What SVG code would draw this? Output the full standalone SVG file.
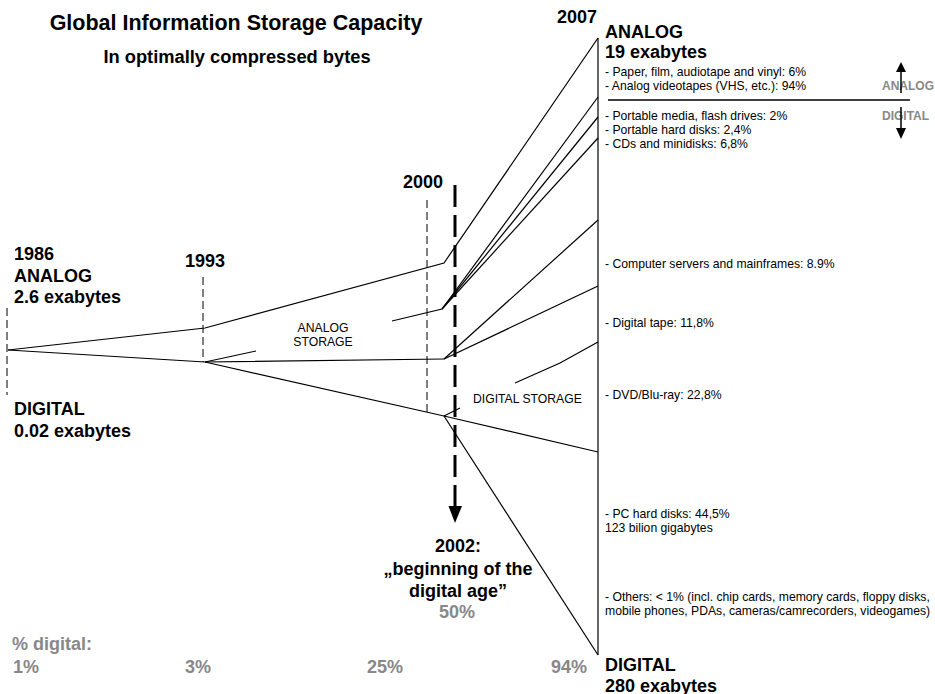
<svg xmlns="http://www.w3.org/2000/svg" width="935" height="694" viewBox="0 0 935 694">
<defs>
<style>
text{font-family:"Liberation Sans",Arial,sans-serif;fill:#000}
.b{font-weight:bold}
.h{font-size:18px;font-weight:bold}
.s{font-size:12.2px}
.g{fill:#888;font-weight:bold}
.p{font-size:18px;fill:#888;font-weight:bold}
.ln{stroke:#000;stroke-width:1.2;fill:none}
.dash{stroke:#000;stroke-width:1;stroke-dasharray:8 4;fill:none}
.thick{stroke:#000;stroke-width:3;stroke-dasharray:22 8;fill:none}
</style>
</defs>
<rect width="935" height="694" fill="#fff"/>

<g id="title">
<text x="236" y="30" text-anchor="middle" class="b" font-size="21.5">Global Information Storage Capacity</text>
<text x="237" y="63" text-anchor="middle" class="b" font-size="18.3">In optimally compressed bytes</text>
</g>

<g id="guides">
<line class="dash" x1="7" y1="308" x2="7" y2="395"/>
<line class="dash" x1="203" y1="277" x2="203" y2="362"/>
<line class="dash" x1="427" y1="200" x2="427" y2="413"/>
<line class="thick" x1="455" y1="185" x2="455" y2="508"/>
<path d="M448.5,506 L462,506 L455,523 z" fill="#000"/>
</g>

<g id="connectors">
<polyline class="ln" points="8,350 205,328 444,263 598,38"/>
<polyline class="ln" points="8,350 205,362 444,359"/>
<polyline class="ln" points="205,362 444,416 598,452"/>
<line class="ln" x1="205" y1="362" x2="256" y2="351"/>
<polyline class="ln" points="392,321 442,309 598,97"/>
<line class="ln" x1="442" y1="309" x2="598" y2="117"/>
<line class="ln" x1="442" y1="309" x2="598" y2="138"/>
<line class="ln" x1="444" y1="359" x2="598" y2="220"/>
<line class="ln" x1="444" y1="359" x2="598" y2="286"/>
<polyline class="ln" points="515,383 560,363 598,342"/>
<line class="ln" x1="444" y1="416" x2="460" y2="408"/>
<line class="ln" x1="444" y1="416" x2="598" y2="655"/>
<line class="ln" x1="598" y1="38" x2="598" y2="655" stroke-width="1.5"/>
</g>

<g id="n1986">
<text x="14" y="260" class="h">1986</text>
<text x="14" y="282" class="h">ANALOG</text>
<text x="14" y="303" class="h">2.6 exabytes</text>
<text x="14" y="415" class="h">DIGITAL</text>
<text x="14" y="437" class="h">0.02 exabytes</text>
</g>

<g id="n1993">
<text x="185" y="267" class="h">1993</text>
</g>

<g id="n2000">
<text x="403" y="188" class="h">2000</text>
</g>

<g id="analog-storage">
<text x="323" y="332" class="s" text-anchor="middle">ANALOG</text>
<text x="323" y="346" class="s" text-anchor="middle">STORAGE</text>
</g>

<g id="digital-storage">
<text x="473" y="403" class="s">DIGITAL STORAGE</text>
</g>

<g id="n2002">
<text x="458" y="552" class="h" text-anchor="middle">2002:</text>
<text x="458" y="575" class="h" text-anchor="middle">„beginning of the</text>
<text x="458" y="597" class="h" text-anchor="middle">digital age”</text>
<text x="457" y="618" class="p" text-anchor="middle">50%</text>
</g>

<g id="n2007">
<text x="597" y="23" class="h" text-anchor="end">2007</text>
<text x="605" y="38" class="h">ANALOG</text>
<text x="605" y="58" class="h">19 exabytes</text>
<text x="605" y="76" class="s">- Paper, film, audiotape and vinyl: 6%</text>
<text x="605" y="90" class="s">- Analog videotapes (VHS, etc.): 94%</text>
<text x="605" y="120" class="s">- Portable media, flash drives: 2%</text>
<text x="605" y="134" class="s">- Portable hard disks: 2,4%</text>
<text x="605" y="148" class="s">- CDs and minidisks: 6,8%</text>
<text x="605" y="268" class="s">- Computer servers and mainframes: 8.9%</text>
<text x="605" y="327" class="s">- Digital tape: 11,8%</text>
<text x="605" y="399" class="s">- DVD/Blu-ray: 22,8%</text>
<text x="605" y="518" class="s">- PC hard disks: 44,5%</text>
<text x="605" y="532" class="s">123 bilion gigabytes</text>
<text x="605" y="601" class="s">- Others: &lt; 1% (incl. chip cards, memory cards, floppy disks,</text>
<text x="605" y="615" class="s">mobile phones, PDAs, cameras/camrecorders, videogames)</text>
<text x="605" y="671" class="h">DIGITAL</text>
<text x="605" y="692" class="h">280 exabytes</text>
</g>

<g id="legend">
<line x1="608" y1="100" x2="910" y2="100" stroke="#000" stroke-width="1.5"/>
<text x="882" y="90" class="g" font-size="12">ANALOG</text>
<text x="882" y="120" class="g" font-size="12">DIGITAL</text>
<line x1="901" y1="93" x2="901" y2="70" stroke="#000" stroke-width="1.5"/>
<path d="M896,72 L906,72 L901,62 z" fill="#000"/>
<line x1="901" y1="107" x2="901" y2="130" stroke="#000" stroke-width="1.5"/>
<path d="M896,128 L906,128 L901,139 z" fill="#000"/>
</g>

<g id="percent">
<text x="12" y="650" class="p">% digital:</text>
<text x="13" y="673" class="p">1%</text>
<text x="185" y="673" class="p">3%</text>
<text x="403" y="673" class="p" text-anchor="end">25%</text>
<text x="587" y="673" class="p" text-anchor="end">94%</text>
</g>
</svg>
